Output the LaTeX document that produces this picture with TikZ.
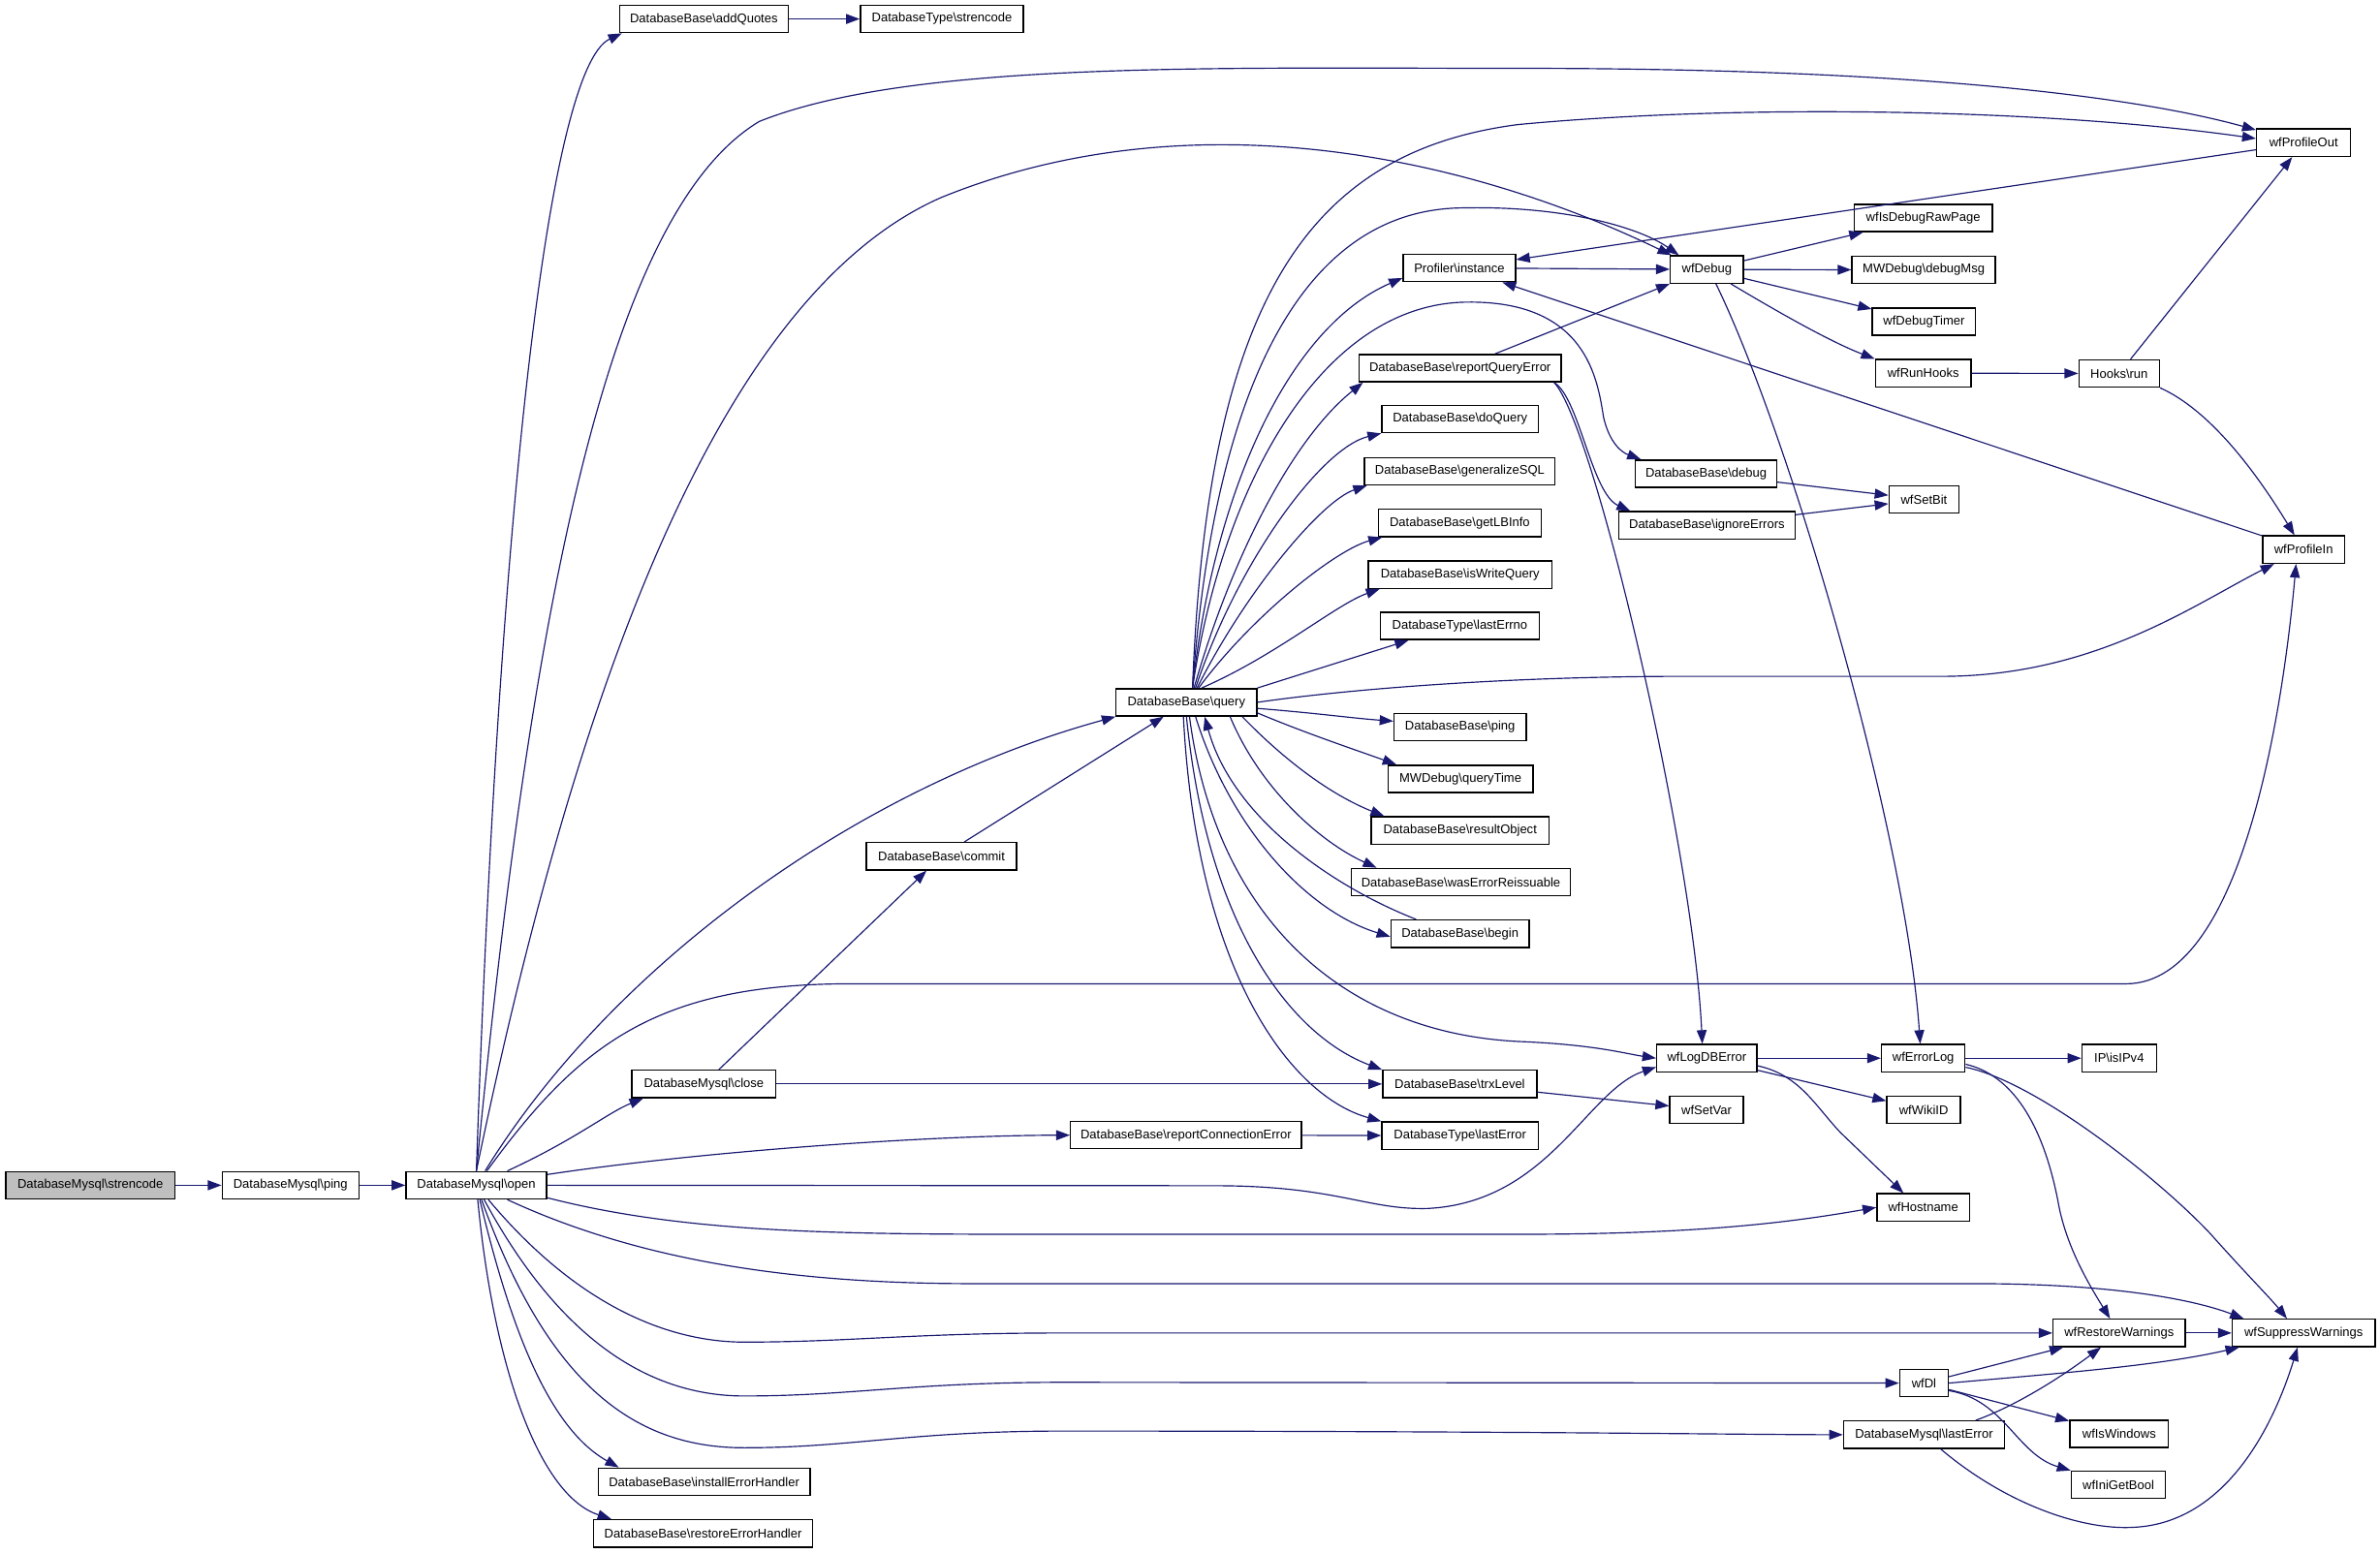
\documentclass[tikz,border=0pt]{standalone}
\usepackage{fontspec}
\setmainfont{Liberation Sans}
\usetikzlibrary{arrows.meta}
\definecolor{edgec}{RGB}{25,25,112}
\definecolor{grayfill}{RGB}{191,191,191}
\newcommand{\bs}{\textbackslash}
\begin{document}
\begin{tikzpicture}[x=1pt,y=-1pt,
  box/.style={draw=black,line width=0.9pt,fill=white,minimum height=18pt,inner sep=0pt,font=\fontsize{8.3}{10}\selectfont},
  e/.style={draw=edgec,line width=0.75pt,-{Triangle[length=9pt,width=6.5pt]}}]
\useasboundingbox (0,0) rectangle (1567.3,1023);
% nodes
\node[box,fill=grayfill,minimum width=111.5pt] (s) at (59.5,780.7) {DatabaseMysql\bs strencode};
\node[box,minimum width=90pt] (ping) at (191.3,780.7) {DatabaseMysql\bs ping};
\node[box,minimum width=92.6pt] (open) at (313.7,780.7) {DatabaseMysql\bs open};
\node[box,minimum width=111pt] (addq) at (463.5,12.5) {DatabaseBase\bs addQuotes};
\node[box,minimum width=107.4pt] (dtstr) at (620.3,12.5) {DatabaseType\bs strencode};
\node[box,minimum width=62pt] (pout) at (1517,94) {wfProfileOut};
\node[box,minimum width=91pt] (israw) at (1266.5,143.6) {wfIsDebugRawPage};
\node[box,minimum width=74pt] (prof) at (961,176.5) {Profiler\bs instance};
\node[box,minimum width=48pt] (wfdebug) at (1124,177.5) {wfDebug};
\node[box,minimum width=94.5pt] (dmsg) at (1266.8,177.8) {MWDebug\bs debugMsg};
\node[box,minimum width=68pt] (dtimer) at (1267,211.8) {wfDebugTimer};
\node[box,minimum width=133pt] (rqe) at (961.5,242.5) {DatabaseBase\bs reportQueryError};
\node[box,minimum width=63pt] (runhooks) at (1266.5,245.8) {wfRunHooks};
\node[box,minimum width=53pt] (hooks) at (1395.5,246) {Hooks\bs run};
\node[box,minimum width=103pt] (doq) at (961.5,276) {DatabaseBase\bs doQuery};
\node[box,minimum width=125.5pt] (gsql) at (961.3,310.4) {DatabaseBase\bs generalizeSQL};
\node[box,minimum width=93pt] (dbg) at (1123.5,312) {DatabaseBase\bs debug};
\node[box,minimum width=46pt] (setbit) at (1267,329) {wfSetBit};
\node[box,minimum width=107.4pt] (lbinfo) at (961.3,344.5) {DatabaseBase\bs getLBInfo};
\node[box,minimum width=116pt] (ignerr) at (1124,346) {DatabaseBase\bs ignoreErrors};
\node[box,minimum width=54pt] (pin) at (1517,362) {wfProfileIn};
\node[box,minimum width=121pt] (iswq) at (961.5,378.5) {DatabaseBase\bs isWriteQuery};
\node[box,minimum width=104.6pt] (lerrno) at (961.3,412.3) {DatabaseType\bs lastErrno};
\node[box,minimum width=92.6pt] (query) at (781.3,462.6) {DatabaseBase\bs query};
\node[box,minimum width=87pt] (dbping) at (961.5,479) {DatabaseBase\bs ping};
\node[box,minimum width=95.5pt] (qtime) at (961.7,513) {MWDebug\bs queryTime};
\node[box,minimum width=117pt] (robj) at (961.5,547) {DatabaseBase\bs resultObject};
\node[box,minimum width=144pt] (wer) at (962,581) {DatabaseBase\bs wasErrorReissuable};
\node[box,minimum width=99pt] (commit) at (620,564) {DatabaseBase\bs commit};
\node[box,minimum width=91pt] (begin) at (961.5,615) {DatabaseBase\bs begin};
\node[box,minimum width=66pt] (logdb) at (1124,697) {wfLogDBError};
\node[box,minimum width=55pt] (errlog) at (1266.5,697) {wfErrorLog};
\node[box,minimum width=49pt] (ipv4) at (1395.5,697) {IP\bs isIPv4};
\node[box,minimum width=95pt] (close) at (463.5,714) {DatabaseMysql\bs close};
\node[box,minimum width=101.5pt] (trx) at (961.3,714) {DatabaseBase\bs trxLevel};
\node[box,minimum width=48.4pt] (setvar) at (1123.8,731) {wfSetVar};
\node[box,minimum width=48.5pt] (wikiid) at (1266.8,731) {wfWikiID};
\node[box,minimum width=152pt] (rce) at (781,747.7) {DatabaseBase\bs reportConnectionError};
\node[box,minimum width=103pt] (dtlerr) at (961.5,748) {DatabaseType\bs lastError};
\node[box,minimum width=61pt] (host) at (1266.5,795.3) {wfHostname};
\node[box,minimum width=87pt] (restw) at (1395.5,878) {wfRestoreWarnings};
\node[box,minimum width=94pt] (suppw) at (1517,878) {wfSuppressWarnings};
\node[box,minimum width=32pt] (wfdl) at (1267,911) {wfDl};
\node[box,minimum width=106pt] (mlerr) at (1267,945) {DatabaseMysql\bs lastError};
\node[box,minimum width=65pt] (iswin) at (1395.5,944.5) {wfIsWindows};
\node[box,minimum width=62pt] (inibool) at (1395,978) {wfIniGetBool};
\node[box,minimum width=139.5pt] (install) at (463.7,976) {DatabaseBase\bs installErrorHandler};
\node[box,minimum width=144pt] (restore) at (463,1010) {DatabaseBase\bs restoreErrorHandler};
% edges from strencode / ping
\draw[e] (s) -- (ping);
\draw[e] (ping) -- (open);
% edges from open
\draw[e] (open.north) .. controls (328,350) and (360,45) .. ([xshift=2pt]addq.south west);
\draw[e] (addq) -- (dtstr);
\draw[e] (open.north) .. controls (350,400) and (400,140) .. (500,80) .. controls (600,40) and (800,45) .. (1000,45) .. controls (1250,45) and (1400,62) .. (pout.165);
\draw[e] (open.north) .. controls (370,500) and (460,200) .. (620,130) .. controls (780,65) and (960,100) .. ([xshift=1pt]wfdebug.north west);
\draw[e] (open) .. controls (400,640) and (560,520) .. (query.south west);
\draw[e] (open) .. controls (380,690) and (430,648) .. (560,648) -- (1400,648) .. controls (1480,648) and (1505,450) .. ([xshift=-5pt]pin.south);
\draw[e] (open) .. controls (380,750) and (400,733) .. ([xshift=8pt]close.south west);
\draw[e] (open) .. controls (450,760) and (600,748) .. (rce.west);
\draw[e] (open.east) -- (800,781) .. controls (880,781) and (900,797) .. (940,796) .. controls (1020,792) and (1045,718) .. (logdb.190);
\draw[e] (open.-10) .. controls (450,812) and (550,813) .. (680,813) -- (1000,813) .. controls (1120,813) and (1180,805) .. (host.west);
\draw[e] (open) .. controls (420,830) and (520,845.5) .. (640,845.5) -- (1300,845.5) .. controls (1400,845.5) and (1450,858) .. ([xshift=8pt]suppw.north west);
\draw[e] (open) .. controls (380,860) and (440,884) .. (490,884) .. controls (560,884) and (600,878) .. (700,878) -- (restw.west);
\draw[e] (open) .. controls (370,885) and (430,919.5) .. (490,919.5) .. controls (560,919.5) and (600,910.5) .. (700,910.5) -- (wfdl.west);
\draw[e] (open) .. controls (362,915) and (420,953.6) .. (490,953.6) .. controls (560,953.6) and (600,942.6) .. (700,942.6) .. controls (1000,942.6) and (1150,945) .. (mlerr.west);
\draw[e] (open) .. controls (335,870) and (360,940) .. ([xshift=14pt]install.north west);
\draw[e] (open) .. controls (325,900) and (355,985) .. ([xshift=12pt]restore.north west);
% close / commit / rce
\draw[e] (close) -- (commit);
\draw[e] (commit) -- (query);
\draw[e] (close) -- (trx);
\draw[e] (rce) -- (dtlerr);
% edges from query
\draw[e] ([xshift=4pt]query.north) .. controls (800,320) and (850,215) .. (prof.190);
\draw[e] ([xshift=4pt]query.north) .. controls (800,250) and (860,140) .. (960,137) .. controls (1030,135) and (1080,150) .. ([xshift=6pt]wfdebug.north west);
\draw[e] ([xshift=4pt]query.north) .. controls (795,200) and (860,100) .. (1000,82) .. controls (1150,68) and (1350,72) .. (pout.175);
\draw[e] ([xshift=5pt]query.north) .. controls (810,370) and (850,290) .. ([xshift=3pt]rqe.south west);
\draw[e] ([xshift=4pt]query.north) .. controls (805,320) and (870,200) .. (966,199) .. controls (1045,198) and (1052,250) .. (1056,275) .. controls (1060,292) and (1068,298) .. ([xshift=4pt]dbg.north west);
\draw[e] ([xshift=6pt]query.north) .. controls (815,370) and (870,295) .. (doq.south west);
\draw[e] ([xshift=7pt]query.north) .. controls (820,390) and (870,330) .. ([xshift=2pt]gsql.south west);
\draw[e] ([xshift=8pt]query.north) .. controls (825,405) and (880,362) .. ([xshift=3pt]lbinfo.south west);
\draw[e] ([xshift=10pt]query.north) .. controls (840,432) and (880,398) .. ([xshift=8pt]iswq.south west);
\draw[e] (query.north east) -- ([xshift=19pt]lerrno.south west);
\draw[e] (query.east) .. controls (880,455) and (980,446) .. (1100,445.5) -- (1280,445.5) .. controls (1380,445) and (1445,398) .. ([xshift=8pt]pin.south west);
\draw[e] ([yshift=-4pt]query.east) .. controls (870,470) and (890,473) .. ([yshift=4pt]dbping.west);
\draw[e] ([yshift=-7pt]query.east) .. controls (860,483) and (890,493) .. ([xshift=6pt]qtime.north west);
\draw[e] ([xshift=-10pt]query.south east) .. controls (850,505) and (880,525) .. ([xshift=9pt]robj.north west);
\draw[e] ([xshift=-18pt]query.south east) .. controls (830,520) and (870,555) .. ([xshift=17pt]wer.north west);
\draw[e] ([xshift=6pt]query.south) .. controls (810,545) and (860,600) .. ([yshift=-2pt]begin.west);
\draw[e] ([xshift=17pt]begin.north west) .. controls (880,585) and (812,540) .. ([xshift=12pt]query.south);
\draw[e] ([xshift=2pt]query.south) .. controls (800,600) and (880,680) .. (1000,686) .. controls (1050,688) and (1070,694) .. (logdb.west);
\draw[e] ([xshift=0pt]query.south) .. controls (795,610) and (850,682) .. (trx.north west);
\draw[e] ([xshift=-2pt]query.south) .. controls (788,640) and (850,722) .. (dtlerr.north west);
% right part
\draw[e] (trx) -- (setvar);
\draw[e] (logdb) -- (errlog);
\draw[e] (logdb) -- (wikiid);
\draw[e] ([yshift=-5pt]logdb.east) .. controls (1185,708) and (1195,728) .. (1212,746) -- ([xshift=-13pt]host.north);
\draw[e] (errlog) -- (ipv4);
\draw[e] ([yshift=-4pt]errlog.east) .. controls (1325,708) and (1345,740) .. (1355,790) .. controls (1360,820) and (1375,845) .. ([xshift=-6pt]restw.north);
\draw[e] ([yshift=-6pt]errlog.east) .. controls (1340,712) and (1420,775) .. (1455,812) .. controls (1480,840) and (1495,855) .. ([xshift=-11pt]suppw.north);
\draw[e] (restw) -- (suppw);
\draw[e] (wfdl) -- (restw);
\draw[e] (wfdl.east) .. controls (1350,905) and (1420,900) .. ([xshift=5pt]suppw.south west);
\draw[e] (wfdl) -- (iswin);
\draw[e] ([yshift=-5pt]wfdl.east) .. controls (1320,922) and (1328,958) .. (inibool.north west);
\draw[e] ([xshift=34pt]mlerr.north) .. controls (1330,925) and (1360,905) .. ([xshift=-12pt]restw.south);
\draw[e] ([xshift=11pt]mlerr.south) .. controls (1320,990) and (1370,1008) .. (1405,1006) .. controls (1470,1003) and (1500,930) .. ([xshift=-4pt]suppw.south);
\draw[e] (wfdebug) -- (israw);
\draw[e] (wfdebug) -- (dmsg);
\draw[e] (wfdebug) -- (dtimer);
\draw[e] (wfdebug) .. controls (1170,205) and (1205,225) .. (runhooks.north west);
\draw[e] ([xshift=6pt]wfdebug.south) .. controls (1180,290) and (1255,550) .. ([xshift=-2pt]errlog.north);
\draw[e] (runhooks) -- (hooks);
\draw[e] (hooks) -- (pout);
\draw[e] (hooks.south east) .. controls (1455,270) and (1485,310) .. ([xshift=-6pt]pin.north);
\draw[e] (pout) -- (prof);
\draw[e] (pin) -- (prof);
\draw[e] (prof) -- (wfdebug);
\draw[e] ([xshift=23pt]rqe.north) -- (wfdebug.south west);
\draw[e] ([xshift=-5pt]rqe.south east) .. controls (1040,262) and (1048,325) .. ([xshift=8pt]ignerr.north west);
\draw[e] ([xshift=-5pt]rqe.south east) .. controls (1050,280) and (1115,560) .. ([xshift=-3pt]logdb.north);
\draw[e] (dbg) -- (setbit);
\draw[e] (ignerr) -- (setbit);
\end{tikzpicture}
\end{document}
